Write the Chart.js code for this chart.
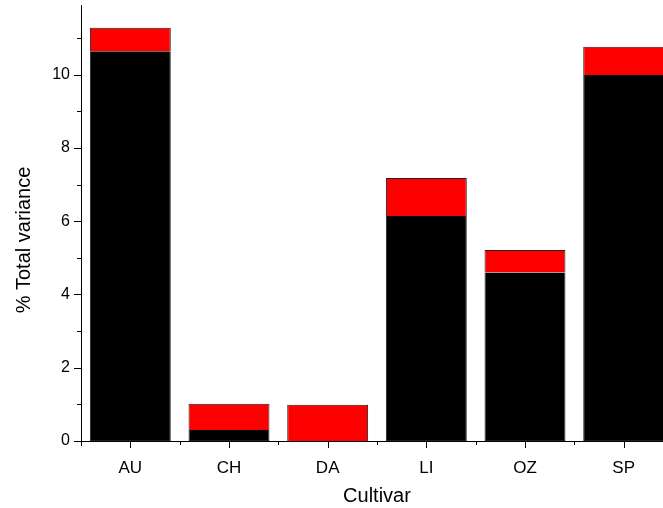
<!DOCTYPE html>
<html>
<head>
<meta charset="utf-8">
<script src="https://cdn.jsdelivr.net/npm/chart.js@4"></script>
<style>
html,body{margin:0;padding:0;background:#fff;overflow:hidden;}
#wrap{width:673px;height:508px;}
</style>
</head>
<body>
<div id="wrap"><canvas id="c" width="673" height="508"></canvas></div>
<script>
const categories = ['AU', 'CH', 'DA', 'LI', 'OZ', 'SP'];
const blackValues = [10.64, 0.30, 0.00, 6.14, 4.60, 9.99];
const redValues = [0.64, 0.72, 0.99, 1.04, 0.61, 0.77];
const yMajorTicks = [0, 2, 4, 6, 8, 10];
const yMinorTicks = [1, 3, 5, 7, 9, 11];
const xTitle = 'Cultivar';
const yTitle = '% Total variance';

const FONT = 'Liberation Sans, Arial, sans-serif';

const axisDeco = {
  id: 'axisDeco',
  afterDraw(chart) {
    const ctx = chart.ctx;
    const x = chart.scales.x, y = chart.scales.y;
    const ax = chart.chartArea.left, ay = chart.chartArea.bottom;
    ctx.save();
    ctx.strokeStyle = '#000';
    ctx.lineWidth = 1;
    ctx.beginPath();
    ctx.moveTo(ax + 0.5, ay);
    ctx.lineTo(ax + 0.5, ay + 5);
    yMajorTicks.forEach(v => {
      const p = Math.round(y.getPixelForValue(v)) + 0.5;
      ctx.moveTo(ax, p); ctx.lineTo(ax - 7, p);
    });
    yMinorTicks.forEach(v => {
      const p = Math.round(y.getPixelForValue(v)) + 0.5;
      ctx.moveTo(ax, p); ctx.lineTo(ax - 4, p);
    });
    categories.forEach((c, i) => {
      const p = Math.round(x.getPixelForValue(i)) + 0.5;
      ctx.moveTo(p, ay); ctx.lineTo(p, ay + 7);
      const b = Math.round(x.getPixelForValue(i + 0.5)) + 0.5;
      ctx.moveTo(b, ay); ctx.lineTo(b, ay + 4);
    });
    ctx.stroke();
    ctx.fillStyle = '#000';
    ctx.font = '20px ' + FONT;
    ctx.textAlign = 'center';
    ctx.textBaseline = 'middle';
    ctx.translate(24, 240);
    ctx.rotate(-Math.PI / 2);
    ctx.fillText(yTitle, 0, 0);
    ctx.restore();
  }
};

new Chart(document.getElementById('c'), {
  type: 'bar',
  data: {
    labels: categories,
    datasets: [
      { label: 'black', data: blackValues, backgroundColor: '#000000', borderColor: '#222222', borderWidth: 1, borderSkipped: 'top' },
      { label: 'red', data: redValues, backgroundColor: '#ff0000', borderColor: '#222222', borderWidth: 1, borderSkipped: 'bottom' }
    ]
  },
  options: {
    responsive: false,
    animation: false,
    devicePixelRatio: 1,
    layout: { padding: { top: 5, left: 0, right: 0, bottom: 0 } },
    plugins: { legend: { display: false }, tooltip: { enabled: false } },
    datasets: { bar: { barPercentage: 0.82, categoryPercentage: 1.0 } },
    scales: {
      x: {
        stacked: true,
        offset: true,
        grid: { display: false, drawTicks: false },
        border: { display: true, color: '#000', width: 1 },
        ticks: { color: '#000', font: { family: FONT, size: 17 }, padding: 17, maxRotation: 0 },
        title: { display: true, text: xTitle, color: '#000', font: { family: FONT, size: 20 }, padding: 0 },
        afterFit(s) { s.height = 67; s.paddingLeft = 0; s.paddingRight = 0; }
      },
      y: {
        stacked: true,
        min: 0,
        max: 11.9,
        grid: { display: false, drawTicks: false },
        border: { display: true, color: '#000', width: 1 },
        ticks: {
          color: '#000', font: { family: FONT, size: 16 }, padding: 11, stepSize: 2, includeBounds: false,
          callback: (v) => yMajorTicks.includes(v) ? String(v) : ''
        },
        afterFit(s) { s.width = 81; s.paddingTop = 0; s.paddingBottom = 0; }
      }
    }
  },
  plugins: [axisDeco]
});
</script>
</body>
</html>
